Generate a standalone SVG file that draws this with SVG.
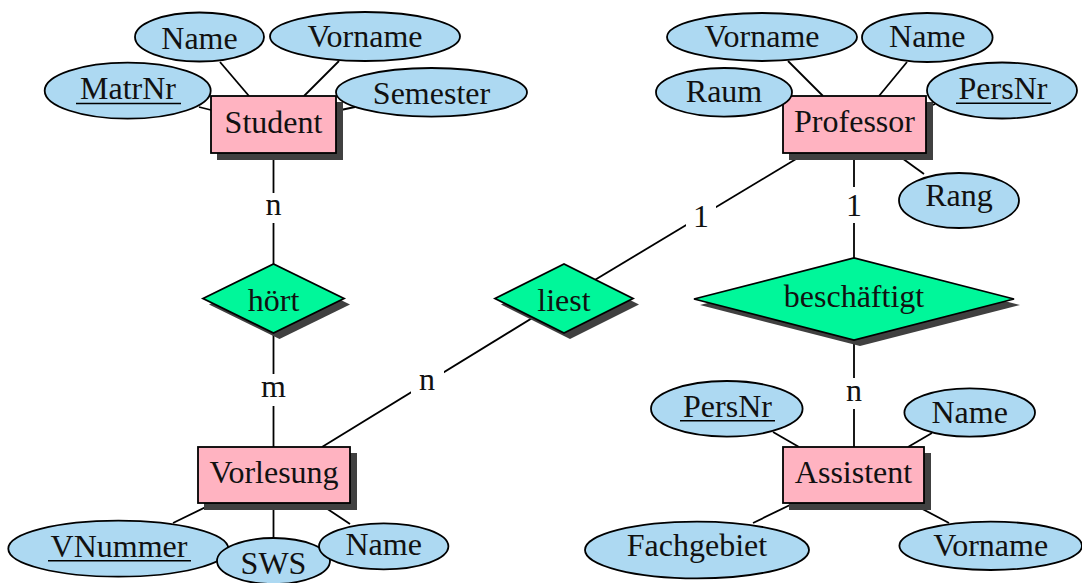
<svg xmlns="http://www.w3.org/2000/svg" width="1082" height="583" viewBox="0 0 1082 583">
<style>
text{font-family:"Liberation Serif","Times New Roman",serif;font-size:32px;fill:#111;text-anchor:middle}
.attr{fill:#ADD9F2;stroke:#000;stroke-width:1.8}
.ent{fill:#FFB3C1;stroke:#000;stroke-width:1.8}
.rel{fill:#00F79A;stroke:#000;stroke-width:1.8}
.sh{fill:#404040}
.ln{stroke:#000;stroke-width:1.8;fill:none}
.lb{fill:#fff}
.ul{stroke:#000;stroke-width:1.6}
</style>
<rect width="1082" height="583" fill="#fff"/>
<g id="connectors">
<line class="ln" x1="220" y1="62" x2="249" y2="96"/>
<line class="ln" x1="339" y1="61" x2="304" y2="96"/>
<line class="ln" x1="199" y1="107" x2="211" y2="110"/>
<line class="ln" x1="336" y1="111" x2="355" y2="107"/>
<line class="ln" x1="788" y1="61" x2="823" y2="96"/>
<line class="ln" x1="907" y1="62" x2="879" y2="96"/>
<line class="ln" x1="926" y1="108" x2="935" y2="104"/>
<line class="ln" x1="895" y1="153" x2="924" y2="174"/>
<line class="ln" x1="173" y1="523" x2="212" y2="504"/>
<line class="ln" x1="273.5" y1="503" x2="273.5" y2="539"/>
<line class="ln" x1="320" y1="504" x2="350" y2="524"/>
<line class="ln" x1="773" y1="432" x2="799" y2="447"/>
<line class="ln" x1="932" y1="433" x2="908" y2="447"/>
<line class="ln" x1="753" y1="523" x2="792" y2="504"/>
<line class="ln" x1="913" y1="504" x2="949" y2="523"/>
<line class="ln" x1="273.5" y1="153" x2="273.5" y2="265"/>
<line class="ln" x1="273.5" y1="333" x2="273.5" y2="447"/>
<line class="ln" x1="564" y1="298.5" x2="806" y2="153"/>
<line class="ln" x1="564" y1="298.5" x2="322" y2="447"/>
<line class="ln" x1="854" y1="153" x2="854" y2="259"/>
<line class="ln" x1="854" y1="340" x2="854" y2="447"/>
<g id="lbl-n1"><rect class="lb" x="261" y="193" width="25" height="30"/><text x="273.5" y="215">n</text></g>
<g id="lbl-m"><rect class="lb" x="258" y="374" width="31" height="32"/><text x="273.5" y="397">m</text></g>
<g id="lbl-1a"><rect class="lb" x="686" y="199" width="30" height="34"/><text x="701" y="227">1</text></g>
<g id="lbl-n2"><rect class="lb" x="411" y="366" width="33" height="32"/><text x="427" y="390">n</text></g>
<g id="lbl-1b"><rect class="lb" x="842" y="187" width="24" height="36"/><text x="854" y="215.5">1</text></g>
<g id="lbl-n3"><rect class="lb" x="842" y="378" width="24" height="31"/><text x="854" y="401">n</text></g>
</g>
<g id="Student">
<rect class="sh" x="217" y="102" width="126" height="58"/>
<rect class="ent" x="211" y="96" width="125" height="57"/>
<text x="273.5" y="133">Student</text>
</g>
<g id="Student-Name"><ellipse class="attr" cx="199.5" cy="37" rx="64.5" ry="24.5"/><text x="199.5" y="49">Name</text></g>
<g id="Student-Vorname"><ellipse class="attr" cx="365" cy="36.5" rx="95" ry="24.5"/><text x="365" y="47">Vorname</text></g>
<g id="Student-MatrNr"><ellipse class="attr" cx="127.7" cy="90.7" rx="83" ry="28"/><text x="128" y="99">MatrNr</text><line class="ul" x1="76" y1="103.5" x2="181" y2="103.5"/></g>
<g id="Student-Semester"><ellipse class="attr" cx="431.5" cy="92.3" rx="95.5" ry="24.3"/><text x="431.5" y="104">Semester</text></g>
<g id="Professor">
<rect class="sh" x="789" y="102" width="144" height="58"/>
<rect class="ent" x="783" y="96" width="143" height="57"/>
<text x="854.5" y="132">Professor</text>
</g>
<g id="Professor-Vorname"><ellipse class="attr" cx="762" cy="37" rx="95" ry="24"/><text x="762" y="47">Vorname</text></g>
<g id="Professor-Name"><ellipse class="attr" cx="927.3" cy="37.5" rx="65.3" ry="24.5"/><text x="927.3" y="47">Name</text></g>
<g id="Professor-Raum"><ellipse class="attr" cx="724" cy="92.3" rx="68" ry="24.3"/><text x="724" y="102">Raum</text></g>
<g id="Professor-PersNr"><ellipse class="attr" cx="1002" cy="90.5" rx="75" ry="28"/><text x="1003" y="98.5">PersNr</text><line class="ul" x1="956" y1="103.3" x2="1051" y2="103.3"/></g>
<g id="Professor-Rang"><ellipse class="attr" cx="959" cy="200.5" rx="60" ry="27.5"/><text x="959" y="206">Rang</text></g>
<g id="hoert">
<polygon class="sh" points="209,304.5 279.5,270 350,304.5 279.5,339"/>
<polygon class="rel" points="203,298.5 273.5,264 344,298.5 273.5,333"/>
<text x="273.5" y="311">hört</text>
</g>
<g id="liest">
<polygon class="sh" points="501,304.5 570,270 639,304.5 570,339"/>
<polygon class="rel" points="495,298.5 564,264 633,298.5 564,333"/>
<text x="564" y="311">liest</text>
</g>
<g id="beschaeftigt">
<polygon class="sh" points="700,305 860,264 1020,305 860,346"/>
<polygon class="rel" points="694,299 854,258 1014,299 854,340"/>
<text x="854" y="307">beschäftigt</text>
</g>
<g id="Vorlesung">
<rect class="sh" x="204" y="453" width="153" height="57"/>
<rect class="ent" x="198" y="447" width="152" height="56"/>
<text x="274" y="483">Vorlesung</text>
</g>
<g id="Vorlesung-VNummer"><ellipse class="attr" cx="118.3" cy="548.7" rx="110" ry="28"/><text x="119" y="556.5">VNummer</text><line class="ul" x1="48" y1="560.7" x2="191" y2="560.7"/></g>
<g id="Vorlesung-SWS"><ellipse class="attr" cx="273.5" cy="561" rx="56.5" ry="23"/><text x="273.5" y="574">SWS</text></g>
<g id="Vorlesung-Name"><ellipse class="attr" cx="383.7" cy="546.3" rx="64.7" ry="23"/><text x="383.7" y="555">Name</text></g>
<g id="Assistent">
<rect class="sh" x="789" y="453" width="142" height="57"/>
<rect class="ent" x="783" y="447" width="141" height="56"/>
<text x="853.5" y="483">Assistent</text>
</g>
<g id="Assistent-PersNr"><ellipse class="attr" cx="726.8" cy="408.8" rx="75.8" ry="27.8"/><text x="727.5" y="416.5">PersNr</text><line class="ul" x1="680" y1="420.7" x2="775" y2="420.7"/></g>
<g id="Assistent-Name"><ellipse class="attr" cx="969.7" cy="412.5" rx="65.3" ry="24.2"/><text x="969.7" y="423">Name</text></g>
<g id="Assistent-Fachgebiet"><ellipse class="attr" cx="697" cy="550" rx="112" ry="28.3"/><text x="697" y="556">Fachgebiet</text></g>
<g id="Assistent-Vorname"><ellipse class="attr" cx="990.7" cy="545.8" rx="91.3" ry="24.2"/><text x="990.7" y="556">Vorname</text></g>
</svg>
